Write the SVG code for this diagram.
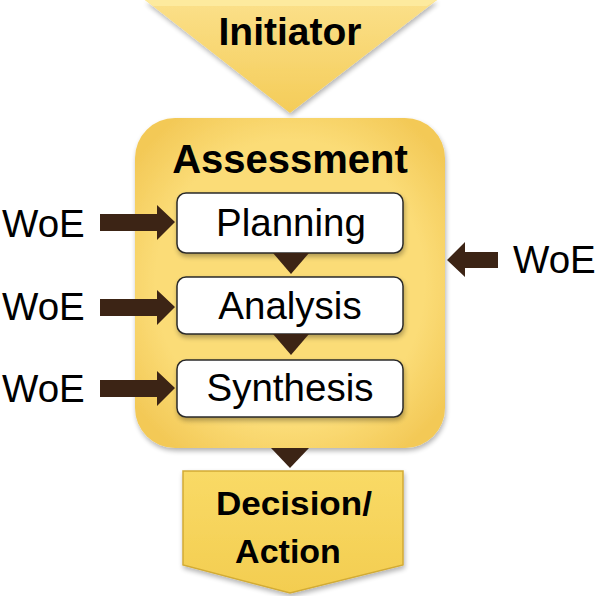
<svg xmlns="http://www.w3.org/2000/svg" width="600" height="596" viewBox="0 0 600 596">
<defs>
<style>
.lbl{font-family:"Liberation Sans",Arial,sans-serif;font-size:38.5px;fill:#000;text-anchor:middle}
.bold{font-family:"Liberation Sans",Arial,sans-serif;font-weight:bold;fill:#000;text-anchor:middle}
.woe{font-family:"Liberation Sans",Arial,sans-serif;font-size:38.5px;fill:#000}
.step{fill:#fff;stroke:#2a2a2a;stroke-width:1.5}
.arr{fill:#3c2415}
</style>
<radialGradient id="gAss" cx="50%" cy="50%" r="62%">
<stop offset="0.7" stop-color="#fbdc77"/>
<stop offset="1" stop-color="#f3c957"/>
</radialGradient>
<linearGradient id="gTri" x1="0" y1="0" x2="0" y2="1">
<stop offset="0" stop-color="#fbe08a"/>
<stop offset="1" stop-color="#f4cc58"/>
</linearGradient>
<linearGradient id="gDec" x1="0" y1="0" x2="0" y2="1">
<stop offset="0" stop-color="#f9da66"/>
<stop offset="1" stop-color="#f3cd50"/>
</linearGradient>
<filter id="sh" x="-10%" y="-10%" width="130%" height="130%">
<feGaussianBlur in="SourceAlpha" stdDeviation="2.5"/>
<feOffset dx="1" dy="3"/>
<feComponentTransfer><feFuncA type="linear" slope="0.3"/></feComponentTransfer>
<feMerge><feMergeNode/><feMergeNode in="SourceGraphic"/></feMerge>
</filter>
</defs>
<rect width="600" height="596" fill="#fff"/>

<g id="initiator">
<polygon points="145,0 437,0 290,113" fill="url(#gTri)" filter="url(#sh)"/>
<polygon points="145,0 437,0 427,6 153,6" fill="#fdea9e"/>
<text class="bold" x="290" y="45" font-size="39">Initiator</text>
</g>

<g id="assessment">
<rect x="135" y="118" width="310" height="330" rx="40" fill="url(#gAss)" filter="url(#sh)"/>
<text class="bold" x="290" y="173" font-size="40">Assessment</text>
</g>

<g id="planning">
<rect class="step" x="177" y="193" width="226" height="60" rx="9" filter="url(#sh)"/>
<text class="lbl" x="291" y="236">Planning</text>
</g>
<g id="analysis">
<rect class="step" x="177" y="277" width="226" height="57" rx="9" filter="url(#sh)"/>
<text class="lbl" x="290" y="319">Analysis</text>
</g>
<g id="synthesis">
<rect class="step" x="177" y="360" width="226" height="57" rx="9" filter="url(#sh)"/>
<text class="lbl" x="290" y="401">Synthesis</text>
</g>

<g id="decision">
<polygon points="183,471 403,471 403,565 290,593 183,565" fill="url(#gDec)" stroke="#d2ab35" stroke-width="1.5" filter="url(#sh)"/>
<text class="bold" x="294" y="515" font-size="34" textLength="156" lengthAdjust="spacingAndGlyphs">Decision/</text>
<text class="bold" x="288" y="563" font-size="34">Action</text>
</g>

<g id="woe-labels">
<text class="woe" x="2" y="237">WoE</text>
<text class="woe" x="2" y="320">WoE</text>
<text class="woe" x="2" y="402">WoE</text>
<text class="woe" x="513" y="273">WoE</text>
</g>

<g id="connectors">
<polygon class="arr" points="100,214 157,214 157,205 175,222 157,240 157,231 100,231"/>
<polygon class="arr" points="100,299 157,299 157,290 175,307 157,325 157,316 100,316"/>
<polygon class="arr" points="100,380 157,380 157,371 175,388 157,406 157,397 100,397"/>
<polygon class="arr" points="498,252 465,252 465,242 447,260 465,277 465,268 498,268"/>
<polygon class="arr" points="273,253 309,253 291,274"/>
<polygon class="arr" points="273,334 309,334 291,355"/>
<polygon class="arr" points="271,448 309,448 290,468"/>
</g>
</svg>
